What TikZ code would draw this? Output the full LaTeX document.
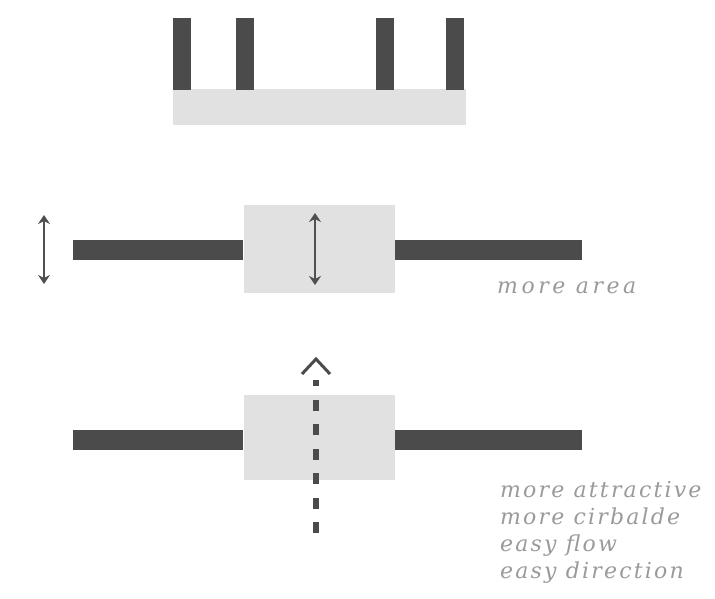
\documentclass[tikz,border=0pt]{standalone}
\usepackage{fontspec}
\setmainfont{DejaVu Serif}
\newfontfamily\notefont[LetterSpace=10]{DejaVu Serif}
\newfontfamily\areafont[LetterSpace=16]{DejaVu Serif}
\usetikzlibrary{arrows.meta}
\definecolor{bardark}{HTML}{4B4B4B}
\definecolor{padgray}{HTML}{E1E1E1}
\definecolor{notegray}{HTML}{9A9A9A}
\definecolor{arrowdark}{HTML}{505050}
\begin{document}
\begin{tikzpicture}[x=1pt,y=-1pt,
  bar/.style={fill=bardark,draw=none,inner sep=0pt,outer sep=0pt},
  pad/.style={fill=padgray,draw=none,inner sep=0pt,outer sep=0pt},
  note/.style={text=notegray,font=\notefont\itshape\fontsize{22}{27}\selectfont,anchor=base west,inner sep=0pt},
  dim/.style={draw=arrowdark,line width=2.6pt,{Stealth[length=9pt,width=12pt]}-{Stealth[length=9pt,width=12pt]}}]
\useasboundingbox (0,0) rectangle (715,598);
% top
\node[pad,minimum width=293pt,minimum height=36pt] (tp) at (319,107) {};
\node[bar,minimum width=18pt,minimum height=72pt] (t1) at (182,54) {};
\node[bar,minimum width=18pt,minimum height=72pt] (t2) at (245,54) {};
\node[bar,minimum width=18pt,minimum height=72pt] (t3) at (385,54) {};
\node[bar,minimum width=18pt,minimum height=72pt] (t4) at (455,54) {};
% middle
\node[pad,minimum width=151pt,minimum height=88pt] (mp) at (319.5,249) {};
\node[bar,minimum width=170pt,minimum height=20pt] (ml) at (158,250) {};
\node[bar,minimum width=187pt,minimum height=20pt] (mr) at (488.5,250) {};
\coordinate (a1t) at (44,215);
\coordinate (a1b) at (44,284);
\draw[dim] (a1t) -- (a1b);
\coordinate (a2t) at (315,213);
\coordinate (a2b) at (315,285);
\draw[dim] (a2t) -- (a2b);
\node[note,font=\areafont\itshape\fontsize{22}{27}\selectfont] (n0) at (497,293) {more area};
% bottom
\node[pad,minimum width=151pt,minimum height=85pt] (bp) at (319.5,437.5) {};
\node[bar,minimum width=170pt,minimum height=20pt] (bl) at (158,440) {};
\node[bar,minimum width=187pt,minimum height=20pt] (br) at (488.5,440) {};
\coordinate (db) at (316,533);
\coordinate (dt) at (316,380);
\draw[bardark,line width=6pt,dash pattern=on 11pt off 13.5pt] (db) -- (dt);
\coordinate (cl) at (302,374);
\coordinate (ca) at (316,359);
\coordinate (cr) at (330,374);
\draw[bardark,line width=3pt,line join=miter] (cl) -- (ca) -- (cr);
\node[note] (n1) at (500,497) {more attractive};
\node[note] (n2) at (500,524) {more cirbalde};
\node[note] (n3) at (500,551) {easy flow};
\node[note] (n4) at (500,578) {easy direction};
\end{tikzpicture}
\end{document}
